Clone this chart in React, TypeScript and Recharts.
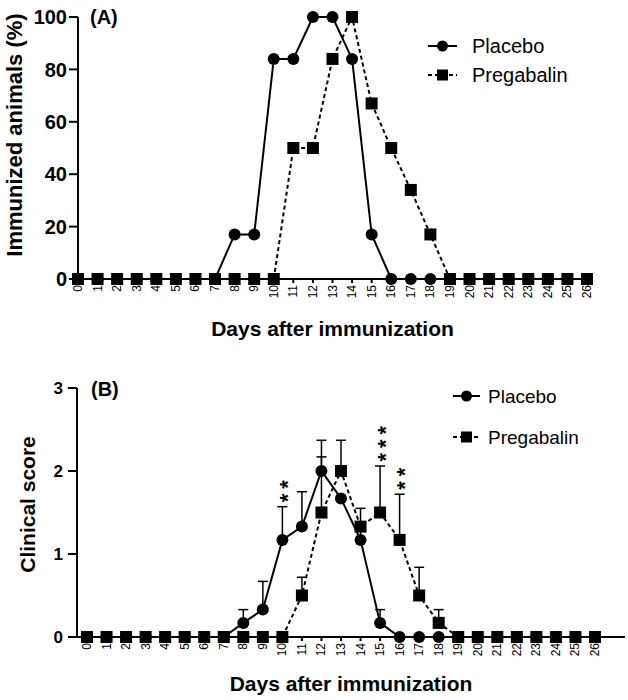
import { ErrorBar, LabelList, Legend, Line, LineChart, XAxis, YAxis } from "recharts";

const FONT = "'Liberation Sans', Arial, sans-serif";

const days = [0, 1, 2, 3, 4, 5, 6, 7, 8, 9, 10, 11, 12, 13, 14, 15, 16, 17, 18, 19, 20, 21, 22, 23, 24, 25, 26];

// panel A: % immunized animals
const immunizedPlacebo = [0, 0, 0, 0, 0, 0, 0, 0, 17, 17, 84, 84, 100, 100, 84, 17, 0, 0, 0, 0, 0, 0, 0, 0, 0, 0, 0];
const immunizedPregabalin = [0, 0, 0, 0, 0, 0, 0, 0, 0, 0, 0, 50, 50, 84, 100, 67, 50, 34, 17, 0, 0, 0, 0, 0, 0, 0, 0];
const immunizedTicks = [0, 20, 40, 60, 80, 100];

// panel B: clinical score (mean + SEM)
const scorePlacebo = [0, 0, 0, 0, 0, 0, 0, 0, 0.17, 0.33, 1.17, 1.33, 2.0, 1.67, 1.17, 0.17, 0, 0, 0, 0, 0, 0, 0, 0, 0, 0, 0];
const scorePlaceboSem = [0, 0, 0, 0, 0, 0, 0, 0, 0.16, 0.34, 0.4, 0.42, 0.17, 0, 0.15, 0.16, 0, 0, 0, 0, 0, 0, 0, 0, 0, 0, 0];
const scorePregabalin = [0, 0, 0, 0, 0, 0, 0, 0, 0, 0, 0, 0.5, 1.5, 2.0, 1.33, 1.5, 1.17, 0.5, 0.17, 0, 0, 0, 0, 0, 0, 0, 0];
const scorePregabalinSem = [0, 0, 0, 0, 0, 0, 0, 0, 0, 0, 0, 0.22, 0.87, 0.37, 0.22, 0.56, 0.55, 0.34, 0.16, 0, 0, 0, 0, 0, 0, 0, 0];
const significance = ["", "", "", "", "", "", "", "", "", "", "**", "", "", "", "", "***", "**", "", "", "", "", "", "", "", "", "", ""];
const scoreTicks = [0, 1, 2, 3];

const rowsA = days.map((day, i) => ({
  day,
  placebo: immunizedPlacebo[i],
  pregabalin: immunizedPregabalin[i],
}));

const rowsB = days.map((day, i) => ({
  day,
  placebo: scorePlacebo[i],
  placeboErr: [0, scorePlaceboSem[i]],
  pregabalin: scorePregabalin[i],
  pregabalinErr: [0, scorePregabalinSem[i]],
  starTop: significance[i]
    ? Math.max(scorePlacebo[i] + scorePlaceboSem[i], scorePregabalin[i] + scorePregabalinSem[i])
    : null,
  stars: significance[i],
}));

const CircleDot = (p: any) =>
  p.cx == null || p.cy == null ? null : <circle key={p.key} cx={p.cx} cy={p.cy} r={6} fill="#000" />;

const SquareDot = (p: any) =>
  p.cx == null || p.cy == null ? null : <rect key={p.key} x={p.cx - 6} y={p.cy - 6} width={12} height={12} fill="#000" />;

const DayTick = (p: any) => (
  <text
    x={p.x}
    y={p.y}
    transform={`rotate(-90, ${p.x}, ${p.y})`}
    textAnchor="end"
    dominantBaseline="central"
    fontSize={12}
    fontFamily={FONT}
    fill="#000"
  >
    {p.payload.value}
  </text>
);

const YTitle = (p: any) => {
  const cx = p.viewBox.x + p.dx;
  const cy = p.viewBox.y + p.viewBox.height / 2 + p.dy;
  return (
    <text
      x={cx}
      y={cy}
      transform={`rotate(-90, ${cx}, ${cy})`}
      textAnchor="middle"
      dominantBaseline="central"
      fontSize={p.size}
      fontWeight="bold"
      fontFamily={FONT}
      fill="#000"
    >
      {p.text}
    </text>
  );
};

const XTitle = (p: any) => (
  <text
    x={p.viewBox.x + p.viewBox.width / 2}
    y={p.viewBox.y + p.dy}
    textAnchor="middle"
    dominantBaseline="central"
    fontSize={21}
    fontWeight="bold"
    fontFamily={FONT}
    fill="#000"
  >
    Days after immunization
  </text>
);

// asterisks stacked above the error bar: the string is turned to run upwards
const StarLabel = (p: any) => {
  if (!p.value || p.y == null || p.x == null) return null;
  const ax = p.x + 5;
  const ay = p.y - 4.5;
  return (
    <g transform={`translate(${ax}, ${ay}) rotate(-90)`}>
      <text
        x={0}
        y={0}
        dominantBaseline="central"
        fontSize={22}
        fontWeight="bold"
        letterSpacing={5}
        fontFamily={FONT}
        fill="#000"
      >
        {p.value}
      </text>
    </g>
  );
};

const SeriesLegend = ({ gap, size, lineEnd, textX }: { gap: number; size: number; lineEnd: number; textX: number }) => {
  const mid = (8 + lineEnd) / 2;
  return (
    <svg width={200} height={gap + 32} style={{ display: "block" }}>
      <line x1={8} y1={16} x2={lineEnd} y2={16} stroke="#000" strokeWidth={2} />
      <circle cx={mid} cy={16} r={5.5} fill="#000" />
      <text x={textX} y={16} dominantBaseline="central" fontSize={size} fontFamily={FONT} fill="#000">
        Placebo
      </text>
      <line x1={8} y1={16 + gap} x2={lineEnd} y2={16 + gap} stroke="#000" strokeWidth={2} strokeDasharray="4 3" />
      <rect x={mid - 5.5} y={16 + gap - 5.5} width={11} height={11} fill="#000" />
      <text x={textX} y={16 + gap} dominantBaseline="central" fontSize={size} fontFamily={FONT} fill="#000">
        Pregabalin
      </text>
    </svg>
  );
};

const axisStroke = { stroke: "#000", strokeWidth: 2 };

export default function App() {
  return (
    <div style={{ position: "absolute", left: 0, top: 0, width: 628, height: 700, background: "#fff" }}>
      <div style={{ position: "absolute", left: 0, top: 0 }}>
        <LineChart width={628} height={345} data={rowsA} margin={{ top: 17, right: 41, bottom: 0, left: 0 }}>
          <XAxis
            dataKey="day"
            type="number"
            domain={[0, 26]}
            ticks={days}
            interval={0}
            height={66}
            tick={<DayTick />}
            tickSize={4}
            tickMargin={2}
            axisLine={axisStroke}
            tickLine={axisStroke}
            label={<XTitle dy={49} />}
          />
          <YAxis
            type="number"
            domain={[0, 100]}
            ticks={immunizedTicks}
            width={78}
            tickSize={9}
            tickMargin={2}
            axisLine={axisStroke}
            tickLine={axisStroke}
            tick={{ fontSize: 20, fontWeight: "bold", fontFamily: FONT, fill: "#000" }}
            label={<YTitle text="Immunized animals (%)" dx={14} dy={-13} size={22} />}
          />
          <Legend
            layout="vertical"
            align="center"
            verticalAlign="middle"
            wrapperStyle={{ left: 420, top: 30, width: 200 }}
            content={() => <SeriesLegend gap={29} size={20} lineEnd={37} textX={52} />}
          />
          <Line
            dataKey="placebo"
            stroke="#000"
            strokeWidth={2}
            dot={CircleDot}
            activeDot={false}
            isAnimationActive={false}
          />
          <Line
            dataKey="pregabalin"
            stroke="#000"
            strokeWidth={2}
            strokeDasharray="4 3"
            dot={SquareDot}
            activeDot={false}
            isAnimationActive={false}
          />
        </LineChart>
      </div>
      <svg width={628} height={700} style={{ position: "absolute", left: 0, top: 0, pointerEvents: "none" }}>
        <text x={90} y={24} fontSize={20} fontWeight="bold" fontFamily={FONT} fill="#000">
          (A)
        </text>
        <text x={91} y={396} fontSize={20} fontWeight="bold" fontFamily={FONT} fill="#000">
          (B)
        </text>
      </svg>
      <div style={{ position: "absolute", left: 0, top: 345 }}>
        <LineChart width={628} height={355} data={rowsB} margin={{ top: 43, right: 3, bottom: 0, left: 0 }}>
          <XAxis
            dataKey="day"
            type="number"
            domain={[0, 26]}
            ticks={days}
            interval={0}
            padding={{ left: 10, right: 30 }}
            height={63}
            tick={<DayTick />}
            tickSize={4}
            tickMargin={2}
            axisLine={axisStroke}
            tickLine={axisStroke}
            label={<XTitle dy={46} />}
          />
          <YAxis
            type="number"
            domain={[0, 3]}
            ticks={scoreTicks}
            width={77}
            tickSize={9}
            tickMargin={5}
            axisLine={axisStroke}
            tickLine={axisStroke}
            tick={{ fontSize: 17, fontWeight: "bold", fontFamily: FONT, fill: "#000" }}
            label={<YTitle text="Clinical score" dx={27} dy={-8} size={21} />}
          />
          <Legend
            layout="vertical"
            align="center"
            verticalAlign="middle"
            wrapperStyle={{ left: 445, top: 35, width: 200 }}
            content={() => <SeriesLegend gap={41} size={19} lineEnd={35} textX={43} />}
          />
          <Line
            dataKey="placebo"
            stroke="#000"
            strokeWidth={2}
            dot={CircleDot}
            activeDot={false}
            isAnimationActive={false}
          >
            <ErrorBar dataKey="placeboErr" direction="y" width={5} stroke="#000" strokeWidth={1.5} />
          </Line>
          <Line
            dataKey="pregabalin"
            stroke="#000"
            strokeWidth={2}
            strokeDasharray="4 3"
            dot={SquareDot}
            activeDot={false}
            isAnimationActive={false}
          >
            <ErrorBar dataKey="pregabalinErr" direction="y" width={5} stroke="#000" strokeWidth={1.5} />
          </Line>
          <Line
            dataKey="starTop"
            stroke="none"
            dot={false}
            activeDot={false}
            legendType="none"
            isAnimationActive={false}
          >
            <LabelList dataKey="stars" content={StarLabel} />
          </Line>
        </LineChart>
      </div>
    </div>
  );
}
